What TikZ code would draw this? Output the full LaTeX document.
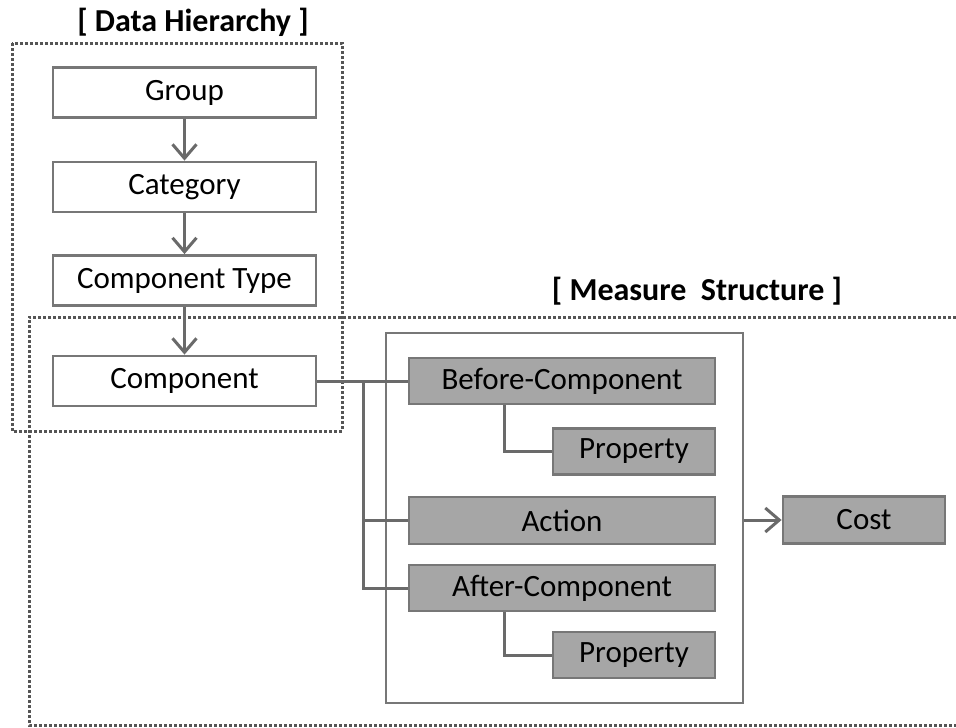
\documentclass[tikz,border=0pt]{standalone}
\usepackage{fontspec}
\setmainfont{Carlito}
\usetikzlibrary{arrows.meta}
\definecolor{linegray}{HTML}{6A6A6A}
\definecolor{boxline}{HTML}{777777}
\definecolor{boxfill}{HTML}{A6A6A6}
\definecolor{dotgray}{HTML}{555555}
\tikzset{
  labelfont/.style={font=\fontsize{31}{37}\selectfont},
  whitebox/.style={labelfont, draw=boxline, line width=2.8pt, fill=white,
    minimum width=263pt, minimum height=50pt, inner sep=0pt},
  graybox/.style={labelfont, draw=boxline, line width=2.8pt, fill=boxfill,
    minimum height=46pt, inner sep=0pt},
  conn/.style={draw=linegray, line width=3pt},
  arr/.style={conn, -{Straight Barb[length=14pt,width=24pt,line width=3pt]}},
  dotbox/.style={dotgray, line width=3pt, dash pattern=on 3pt off 2pt}
}
\begin{document}
\begin{tikzpicture}[x=1pt,y=-1pt]
\useasboundingbox (0,0) rectangle (956,728);
% frames
\draw[dotbox] (12,43) rectangle (342,431);
\draw[dotbox] (956,317) -| (29,725) -- (956,725);
\node[font=\bfseries\fontsize{32}{38}\selectfont] (dhtitle) at (193,22) {[ Data Hierarchy ]};
\node[font=\bfseries\fontsize{32}{38}\selectfont] (mstitle) at (697,291) {[ Measure~~Structure ]};
\node[draw=boxline, line width=2pt, fill=white, minimum width=357pt,
  minimum height=370pt, inner sep=0pt] (measure) at (564.5,518) {};
% data hierarchy
\node[whitebox] (group) at (184.5,92.5) {Group};
\node[whitebox] (category) at (184.5,187) {Category};
\node[whitebox] (ctype) at (184.5,280.5) {Component Type};
\node[whitebox] (component) at (184.5,381) {Component};
\draw[arr] (group) -- (category);
\draw[arr] (category) -- (ctype);
\draw[arr] (ctype) -- (component);
% measure structure
\node[graybox, minimum width=306pt] (before) at (562,381) {Before-Component};
\node[graybox, minimum width=162pt] (prop1) at (634,451.5) {Property};
\node[graybox, minimum width=306pt, minimum height=47pt] (action) at (562,520.5) {Action};
\node[graybox, minimum width=306pt] (after) at (562,588) {After-Component};
\node[graybox, minimum width=162pt] (prop2) at (634,655) {Property};
\node[graybox, minimum width=162pt, minimum height=47pt] (cost) at (864,520) {Cost};
\coordinate (split) at (363,381);
\coordinate (elbow) at (504,0);
\draw[conn] (component.east) -- (before.west);
\draw[conn] (split) |- (action.west);
\draw[conn] (split) |- (after.west);
\draw[conn] (before.south -| elbow) |- (prop1.west);
\draw[conn] (after.south -| elbow) |- (prop2.west);
\draw[arr] (measure.east |- cost.west) -- (cost.west);
\end{tikzpicture}
\end{document}
